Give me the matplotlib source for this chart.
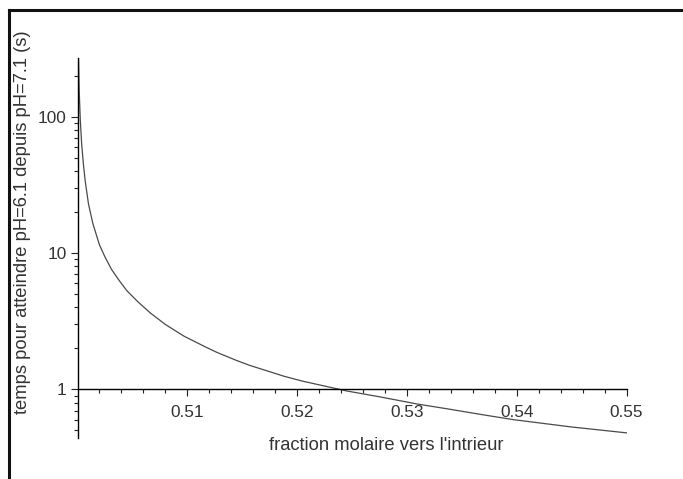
import matplotlib
matplotlib.use("Agg")
import matplotlib.pyplot as plt
from matplotlib.lines import Line2D
from matplotlib.ticker import FixedLocator, NullFormatter, FixedFormatter

# Data
fraction = [0.50009, 0.50015, 0.50025, 0.50038, 0.50055, 0.5007, 0.5010, 0.5014,
            0.5020, 0.5025, 0.5031, 0.5038, 0.5045, 0.5055, 0.5066, 0.5080,
            0.5097, 0.5115, 0.5127, 0.5145, 0.5157, 0.5175, 0.5188, 0.5205,
            0.5218, 0.5245, 0.5276, 0.5310, 0.5337, 0.5370, 0.5397, 0.5450, 0.5500]
temps = [270, 160, 97, 63, 44, 34, 23, 16.5,
         11.5, 9.4, 7.6, 6.3, 5.3, 4.4, 3.66, 3.0,
         2.46, 2.08, 1.87, 1.63, 1.5, 1.35, 1.25, 1.15,
         1.09, 0.975, 0.88, 0.78, 0.72, 0.65, 0.60, 0.53, 0.48]

x_major = [0.51, 0.52, 0.53, 0.54, 0.55]
x_major_labels = ["0.51", "0.52", "0.53", "0.54", "0.55"]
y_major = [1, 10, 100]
y_major_labels = ["1", "10", "100"]

plt.rcParams['font.family'] = ['Liberation Sans', 'DejaVu Sans']

fig = plt.figure(figsize=(6.83, 4.79), dpi=100)
W, H = 683, 479
left, right, top, bottom = 77.5, 626.5, 58, 438
ax = fig.add_axes([left / W, 1 - bottom / H, (right - left) / W, (bottom - top) / H])

ax.plot(fraction, temps, color='#4a4a4a', lw=0.9)
ax.set_yscale('log')
ax.set_xlim(0.5, 0.55)
ax.set_ylim(0.44, 271)

for s in ['top', 'right']:
    ax.spines[s].set_visible(False)
ax.spines['bottom'].set_position(('data', 1))
ax.spines['bottom'].set_linewidth(1.0)
ax.spines['left'].set_linewidth(1.0)

ax.xaxis.set_major_locator(FixedLocator(x_major))
ax.xaxis.set_major_formatter(FixedFormatter(x_major_labels))
ax.xaxis.set_minor_locator(FixedLocator([0.5 + 0.002 * i for i in range(1, 26)]))
ax.yaxis.set_major_locator(FixedLocator(y_major))
ax.yaxis.set_major_formatter(FixedFormatter(y_major_labels))
ymin = [0.5, 0.6, 0.7, 0.8, 0.9] + [k for k in range(2, 10)] + [10 * k for k in range(2, 10)] + [200]
ax.yaxis.set_minor_locator(FixedLocator(ymin))
ax.yaxis.set_minor_formatter(NullFormatter())

ax.tick_params(axis='both', which='major', length=5, width=0.8, labelsize=12.4, direction='out', colors='#222222')
ax.tick_params(axis='both', which='minor', length=3, width=0.8, direction='out', colors='#222222')
ax.tick_params(axis='x', which='major', pad=6)
ax.tick_params(axis='y', which='major', pad=3)
ax.tick_params(labelcolor='#333333')
ax.patch.set_alpha(0)

fig.text(386.5 / W, 1 - 446 / H, "fraction molaire vers l'intrieur", ha='center', va='center',
         fontsize=13.2, color='#333333')
fig.text(23 / W, 1 - 222 / H, "temps pour atteindre pH=6.1 depuis pH=7.1 (s)", ha='center', va='center',
         rotation=90, fontsize=13.2, color='#333333')

# frame around the picture (left and top only, as in the reference)
fig.add_artist(Line2D([9 / W, 9 / W], [0, 1 - 10 / H], transform=fig.transFigure, color='#111111', lw=2.2))
fig.add_artist(Line2D([9 / W, 1], [1 - 10 / H, 1 - 10 / H], transform=fig.transFigure, color='#111111', lw=2.2))

fig.savefig('out.png', dpi=100)
